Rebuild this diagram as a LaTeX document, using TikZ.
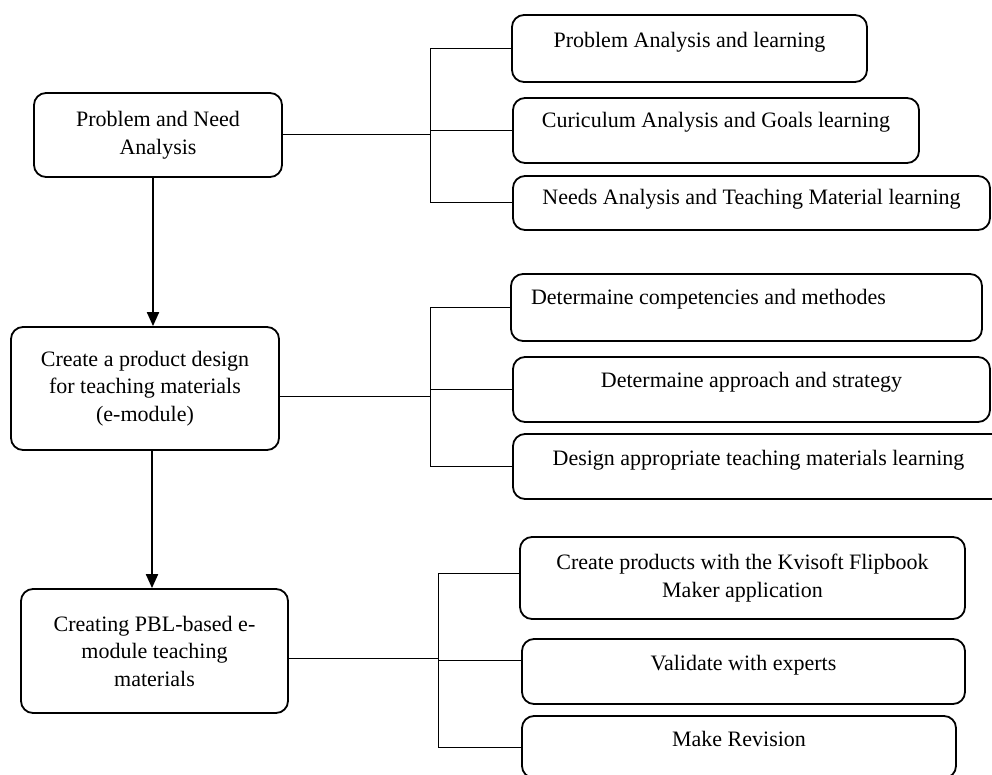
\documentclass[tikz,border=0pt]{standalone}
\usepackage{fontspec}
\setmainfont{Liberation Serif}
\usetikzlibrary{arrows.meta}
\tikzset{box/.style={draw,line width=1.8pt,rounded corners=12pt,inner sep=0pt,align=center,
 font=\fontsize{22}{27.5}\selectfont},lift/.style={text height=15pt,text depth=#1},
 link/.style={line width=1pt},arr/.style={-{Triangle[length=14pt,width=12pt]},line width=2pt}}

\begin{document}
\begin{tikzpicture}[x=1pt,y=-1pt]
\useasboundingbox (0,0) rectangle (992,775);
% left column
\node[box,minimum width=248pt,minimum height=84pt] (need) at (158,135) {Problem and Need\\Analysis};
\node[box,minimum width=268pt,minimum height=123pt] (design) at (145,388.5) {Create a product design\\for teaching materials\\(e-module)};
\node[box,minimum width=267pt,minimum height=124pt] (build) at (154.5,651) {Creating PBL-based e-\\module teaching\\materials};

% first group
\node[box,lift=16pt,minimum width=355pt,minimum height=67pt] (prob) at (689.5,48.5) {Problem Analysis and learning};
\node[box,lift=20pt,minimum width=406pt,minimum height=65pt] (curric) at (716,130.5) {Curiculum Analysis and Goals learning};
\node[box,lift=11pt,minimum width=477pt,minimum height=54pt] (needs) at (751.5,203) {Needs Analysis and Teaching Material learning};

% second group
\node[box,lift=20pt,text width=431pt,align=flush left,minimum width=471pt,minimum height=67pt] (comp) at (746.5,307.5) {Determaine competencies and methodes};
\node[box,lift=20pt,minimum width=477pt,minimum height=65pt] (approach) at (751.5,389.5) {Determaine approach and strategy};
\node[box,lift=18pt,minimum width=491pt,minimum height=65pt] (designmat) at (758.5,466.5) {Design appropriate teaching materials learning};

% third group
\node[box,minimum width=445pt,minimum height=82pt] (kvisoft) at (742.5,578) {Create products with the Kvisoft Flipbook\\Maker application};
\node[box,lift=18pt,minimum width=443pt,minimum height=65pt] (validate) at (743.5,671.5) {Validate with experts};
\node[box,lift=17pt,minimum width=434pt,minimum height=62pt] (revision) at (739,747) {Make Revision};

\coordinate (forkA) at (430,0);
\coordinate (forkC) at (438,0);

\draw[link] (need.east) -- (need.east -| forkA);
\draw[link] (prob.west) -| (forkA |- needs.west) -- (needs.west);
\draw[link] (curric.west) -- (curric.west -| forkA);

\draw[link] ([yshift=-7.5pt]design.east) -- ([yshift=-7.5pt]design.east -| forkA);
\draw[link] (comp.west) -| (forkA |- designmat.west) -- (designmat.west);
\draw[link] (approach.west) -- (approach.west -| forkA);

\draw[link] ([yshift=-7pt]build.east) -- ([yshift=-7pt]build.east -| forkC);
\draw[link] ([yshift=5pt]kvisoft.west) -| (forkC |- revision.west) -- (revision.west);
\draw[link] ([yshift=11pt]validate.west) -- ([yshift=11pt]validate.west -| forkC);

\draw[arr] ([xshift=-5pt]need.south) -- ([xshift=-5pt]need.south |- design.north);
\draw[arr] ([xshift=7pt]design.south) -- ([xshift=7pt]design.south |- build.north);
\end{tikzpicture}
\end{document}
